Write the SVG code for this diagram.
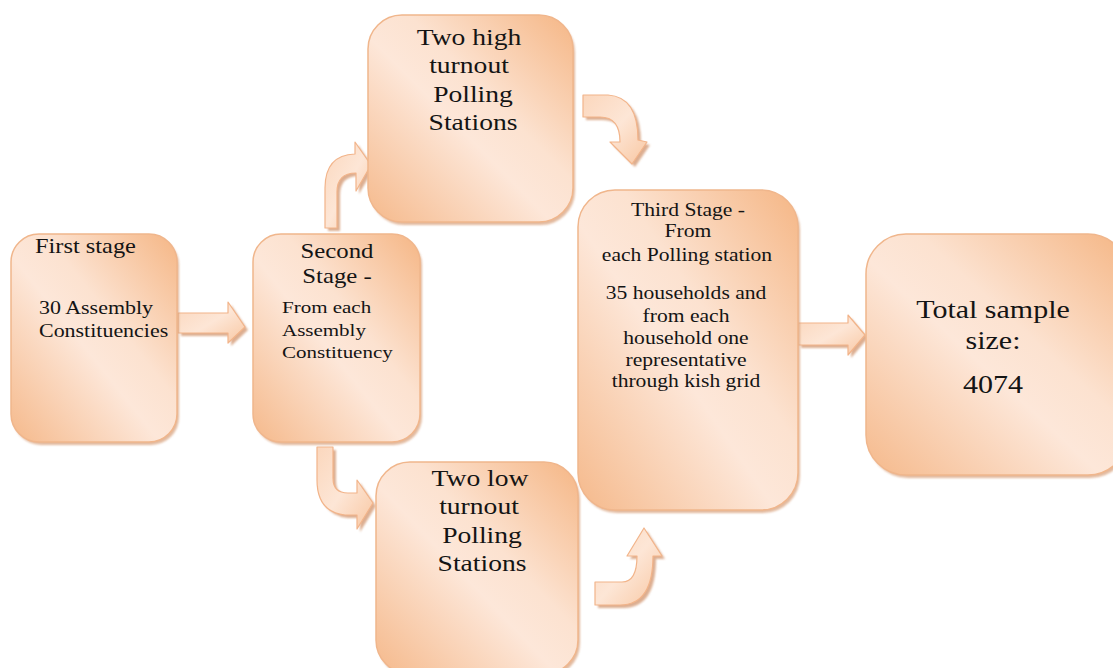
<svg xmlns="http://www.w3.org/2000/svg" width="1113" height="668" viewBox="0 0 1113 668">
<defs>
<linearGradient id="boxg" x1="0" y1="1" x2="1" y2="0">
<stop offset="0" stop-color="#f5b98b"/>
<stop offset="0.45" stop-color="#fde7d9"/>
<stop offset="0.6" stop-color="#fce2d0"/>
<stop offset="1" stop-color="#f5b685"/>
</linearGradient>
<linearGradient id="arrg" x1="0" y1="0" x2="1" y2="1">
<stop offset="0" stop-color="#fbd7bd"/>
<stop offset="0.5" stop-color="#fde6d6"/>
<stop offset="1" stop-color="#f8c7a2"/>
</linearGradient>
<filter id="sh" x="-10%" y="-10%" width="130%" height="130%">
<feGaussianBlur stdDeviation="0.8"/>
</filter>
<style>
.box{fill:url(#boxg);stroke:#f0b68c;stroke-width:1.5}
.bsh{fill:#d9a27d;opacity:0.75;filter:url(#sh)}
.arr{fill:url(#arrg);stroke:#f2b48a;stroke-width:1.2;stroke-linejoin:round}
.ash{fill:#d49a74;opacity:0.8;filter:url(#sh)}
text{font-family:"Liberation Serif","Times New Roman",serif;fill:#141414}
.m{text-anchor:middle}
</style>
</defs>
<rect width="1113" height="668" fill="#ffffff"/>

<g id="connectors">
<!-- first -> second -->
<g transform="translate(3,3)" class="ash"><path d="M178,313 L228,313 L228,302 L245,327 L228,343 L228,333 L178,333 Z"/></g>
<path class="arr" d="M178,313 L228,313 L228,302 L245,327 L228,343 L228,333 L178,333 Z"/>
<!-- third -> total -->
<g transform="translate(3,3)" class="ash"><path d="M798,323 L848,323 L848,315 L865,335 L848,355 L848,345 L798,345 Z"/></g>
<path class="arr" d="M798,323 L848,323 L848,315 L865,335 L848,355 L848,345 L798,345 Z"/>
<!-- second -> high -->
<g transform="translate(3,3)" class="ash"><path d="M325,228 L325,188 Q325,155 355,154 L355,142 L371,165 L356,191 L356,173 Q337,173 337,192 L337,228 Z"/></g>
<path class="arr" d="M325,228 L325,188 Q325,155 355,154 L355,142 L371,165 L356,191 L356,173 Q337,173 337,192 L337,228 Z"/>
<!-- high -> third -->
<g transform="translate(3,3)" class="ash"><path d="M583,95 L608,95 Q638,97 638,140 L647,142 L632,164 L610,142 L620,142 Q620,117 600,117 L583,117 Z"/></g>
<path class="arr" d="M583,95 L608,95 Q638,97 638,140 L647,142 L632,164 L610,142 L620,142 Q620,117 600,117 L583,117 Z"/>
<!-- second -> low -->
<g transform="translate(3,3)" class="ash"><path d="M317,447 L333,447 L333,478 Q333,493 348,493 L357,493 L357,480 L373,503 L357,529 L357,515 L345,515 Q317,512 317,480 Z"/></g>
<path class="arr" d="M317,447 L333,447 L333,478 Q333,493 348,493 L357,493 L357,480 L373,503 L357,529 L357,515 L345,515 Q317,512 317,480 Z"/>
<!-- low -> third -->
<g transform="translate(3,3)" class="ash"><path d="M595,582 L622,582 Q637,582 637,556 L627,556 L644,528 L662,556 L653,556 Q653,605 620,605 L595,605 Z"/></g>
<path class="arr" d="M595,582 L622,582 Q637,582 637,556 L627,556 L644,528 L662,556 L653,556 Q653,605 620,605 L595,605 Z"/>
</g>

<g id="first">
<rect class="bsh" x="13" y="237" width="166" height="208" rx="28"/>
<rect class="box" x="11" y="234" width="166" height="208" rx="28"/>
<text transform="translate(35,253) scale(1.22,1)" font-size="20">First stage</text>
<text transform="translate(39,314) scale(1.22,1)" font-size="18">30 Assembly</text>
<text transform="translate(39,337) scale(1.22,1)" font-size="18">Constituencies</text>
</g>

<g id="second">
<rect class="bsh" x="255" y="237" width="167" height="208" rx="28"/>
<rect class="box" x="253" y="234" width="167" height="208" rx="28"/>
<text class="m" transform="translate(337,258) scale(1.18,1)" font-size="21">Second</text>
<text class="m" transform="translate(337,283) scale(1.18,1)" font-size="21">Stage -</text>
<text transform="translate(282,313) scale(1.2,1)" font-size="17.5">From each</text>
<text transform="translate(282,336) scale(1.2,1)" font-size="17.5">Assembly</text>
<text transform="translate(282,358) scale(1.2,1)" font-size="17.5">Constituency</text>
</g>

<g id="high">
<rect class="bsh" x="370" y="18" width="205" height="207" rx="34"/>
<rect class="box" x="368" y="15" width="205" height="207" rx="34"/>
<text class="m" transform="translate(469,45) scale(1.2,1)" font-size="23">Two high</text>
<text class="m" transform="translate(469,73) scale(1.2,1)" font-size="23">turnout</text>
<text class="m" transform="translate(473,102) scale(1.2,1)" font-size="23">Polling</text>
<text class="m" transform="translate(473,130) scale(1.2,1)" font-size="23">Stations</text>
</g>

<g id="low">
<rect class="bsh" x="378" y="465" width="202" height="212" rx="34"/>
<rect class="box" x="376" y="462" width="202" height="212" rx="34"/>
<text class="m" transform="translate(480,486) scale(1.2,1)" font-size="23">Two low</text>
<text class="m" transform="translate(479,514) scale(1.2,1)" font-size="23">turnout</text>
<text class="m" transform="translate(482,543) scale(1.2,1)" font-size="23">Polling</text>
<text class="m" transform="translate(482,571) scale(1.2,1)" font-size="23">Stations</text>
</g>

<g id="third">
<rect class="bsh" x="580" y="193" width="220" height="320" rx="37"/>
<rect class="box" x="578" y="190" width="220" height="320" rx="37"/>
<text class="m" transform="translate(688,216) scale(1.2,1)" font-size="18">Third Stage -</text>
<text class="m" transform="translate(688,237) scale(1.2,1)" font-size="18">From</text>
<text class="m" transform="translate(687,261) scale(1.2,1)" font-size="18">each Polling station</text>
<text class="m" transform="translate(686,299) scale(1.2,1)" font-size="18">35 households and</text>
<text class="m" transform="translate(686,322) scale(1.2,1)" font-size="18">from each</text>
<text class="m" transform="translate(686,344) scale(1.2,1)" font-size="18">household one</text>
<text class="m" transform="translate(686,366) scale(1.2,1)" font-size="18">representative</text>
<text class="m" transform="translate(686,387) scale(1.2,1)" font-size="18">through kish grid</text>
</g>

<g id="total">
<rect class="bsh" x="868" y="237" width="262" height="241" rx="40"/>
<rect class="box" x="866" y="234" width="262" height="241" rx="40"/>
<text class="m" transform="translate(993,318) scale(1.2,1)" font-size="25">Total sample</text>
<text class="m" transform="translate(993,349) scale(1.2,1)" font-size="25">size:</text>
<text class="m" transform="translate(993,393) scale(1.2,1)" font-size="25">4074</text>
</g>
</svg>
